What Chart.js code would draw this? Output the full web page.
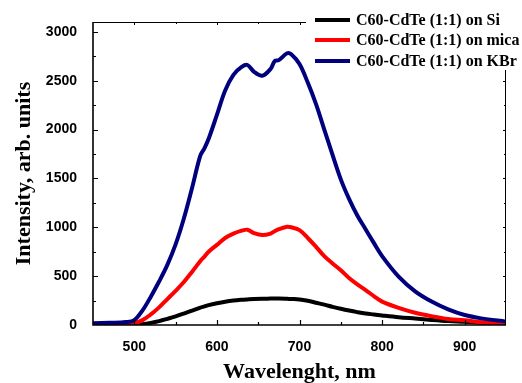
<!DOCTYPE html>
<html>
<head>
<meta charset="utf-8">
<script src="https://cdn.jsdelivr.net/npm/chart.js@4.4.0/dist/chart.umd.min.js"></script>
<style>
  html, body { margin: 0; padding: 0; background: #ffffff; }
  canvas { display: block; }
</style>
</head>
<body>
<canvas id="c" width="522" height="383"></canvas>
<script>
// Photoluminescence spectra of C60-CdTe (1:1) films on three substrates
const wavelength = [450, 470, 490, 500, 510, 520, 530, 540, 550, 560, 570, 580, 585, 590, 600, 610, 620, 630, 637, 645, 655, 665, 670, 675, 685, 690, 700, 710, 720, 730, 740, 750, 760, 770, 780, 790, 800, 820, 840, 860, 880, 900, 920, 950];
const intensitySi = [0, 0, 0, 0, 8, 22, 40, 63, 88, 117, 148, 178, 190, 203, 222, 238, 250, 258, 262, 266, 269, 270, 271, 271, 268, 266, 262, 248, 228, 208, 186, 166, 148, 132, 118, 108, 98, 80, 66, 52, 40, 32, 22, 10];
const intensityMica = [5, 6, 10, 18, 50, 108, 180, 265, 350, 440, 545, 655, 700, 750, 820, 890, 935, 965, 975, 940, 920, 935, 960, 980, 1005, 1000, 970, 890, 800, 705, 630, 560, 480, 415, 358, 295, 239, 175, 125, 90, 62, 48, 28, 10];
const intensityKBr = [17, 22, 30, 50, 150, 290, 445, 615, 825, 1090, 1405, 1735, 1810, 1905, 2150, 2400, 2560, 2640, 2660, 2590, 2550, 2620, 2700, 2710, 2780, 2770, 2670, 2480, 2260, 2000, 1740, 1490, 1290, 1120, 980, 840, 705, 495, 345, 240, 160, 102, 68, 34];

const seriesLabels = ['C60-CdTe (1:1) on Si', 'C60-CdTe (1:1) on mica', 'C60-CdTe (1:1) on KBr'];
const seriesColors = ['#000000', '#ff0000', '#00007f'];

const xTickValues = [500, 600, 700, 800, 900];
const xMinorTicks = [500, 550, 600, 650, 700, 750, 800, 850, 900];
const yTickValues = [0, 500, 1000, 1500, 2000, 2500, 3000];
const yMinorTicks = [250, 500, 750, 1000, 1250, 1500, 1750, 2000, 2250, 2500, 2750, 3000];

const toPoints = (ys) => wavelength.map((x, i) => ({ x: x, y: ys[i] }));

// Box frame with inward major/minor ticks
const framePlugin = {
  id: 'frame',
  afterDatasetsDraw(chart) {
    const { ctx, chartArea: a, scales: { x, y } } = chart;
    ctx.save();
    ctx.strokeStyle = '#000000';
    // top and right borders (thin)
    ctx.lineWidth = 1;
    ctx.beginPath();
    ctx.moveTo(a.left, a.top + 0.5); ctx.lineTo(a.right, a.top + 0.5);
    ctx.moveTo(a.right - 0.5, a.top); ctx.lineTo(a.right - 0.5, a.bottom);
    ctx.stroke();
    // ticks on top and right
    ctx.beginPath();
    xMinorTicks.forEach(v => {
      const px = Math.round(x.getPixelForValue(v)) + 0.5;
      ctx.moveTo(px, a.top); ctx.lineTo(px, a.top + (v % 100 === 0 ? 3 : 2));
    });
    yMinorTicks.forEach(v => {
      const py = Math.round(y.getPixelForValue(v)) + 0.5;
      ctx.moveTo(a.right, py); ctx.lineTo(a.right - (v % 500 === 0 ? 3 : 2), py);
    });
    ctx.stroke();
    // left and bottom axes (heavier)
    ctx.lineWidth = 1.6;
    ctx.beginPath();
    ctx.moveTo(a.left, a.top); ctx.lineTo(a.left, a.bottom);
    ctx.lineTo(a.right, a.bottom);
    ctx.stroke();
    ctx.lineWidth = 1.2;
    ctx.beginPath();
    xMinorTicks.forEach(v => {
      const px = Math.round(x.getPixelForValue(v)) + 0.5;
      ctx.moveTo(px, a.bottom); ctx.lineTo(px, a.bottom - (v % 100 === 0 ? 5 : 3));
    });
    yMinorTicks.forEach(v => {
      const py = Math.round(y.getPixelForValue(v)) + 0.5;
      ctx.moveTo(a.left, py); ctx.lineTo(a.left + (v % 500 === 0 ? 5 : 3), py);
    });
    ctx.stroke();
    ctx.restore();
  }
};

// Legend in the upper right corner on a white panel
const legendPlugin = {
  id: 'cornerLegend',
  afterDraw(chart) {
    const { ctx } = chart;
    ctx.save();
    ctx.fillStyle = '#ffffff';
    ctx.fillRect(306, 0, 216, 70);
    const rows = [20, 40, 61];
    chart.data.datasets.forEach((ds, i) => {
      ctx.strokeStyle = ds.borderColor;
      ctx.lineWidth = 4;
      ctx.beginPath();
      ctx.moveTo(315, rows[i]); ctx.lineTo(350, rows[i]);
      ctx.stroke();
      ctx.fillStyle = '#000000';
      ctx.font = 'bold 16px "Liberation Serif", "Times New Roman", serif';
      ctx.textBaseline = 'middle';
      ctx.textAlign = 'left';
      ctx.fillText(ds.label, 356, rows[i] + 1);
    });
    ctx.restore();
  }
};

new Chart(document.getElementById('c'), {
  type: 'line',
  data: {
    datasets: [
      { label: seriesLabels[0], data: toPoints(intensitySi), borderColor: seriesColors[0], order: 3 },
      { label: seriesLabels[1], data: toPoints(intensityMica), borderColor: seriesColors[1], order: 2 },
      { label: seriesLabels[2], data: toPoints(intensityKBr), borderColor: seriesColors[2], order: 1 }
    ].map(d => Object.assign(d, {
      borderWidth: 4,
      pointRadius: 0,
      fill: false,
      tension: 0.35,
      borderCapStyle: 'round',
      borderJoinStyle: 'round'
    }))
  },
  options: {
    responsive: false,
    animation: false,
    layout: { padding: { left: 0, right: 16, top: 22, bottom: 0 } },
    plugins: { legend: { display: false }, tooltip: { enabled: false } },
    scales: {
      x: {
        type: 'linear',
        min: 450,
        max: 950,
        afterBuildTicks: (s) => { s.ticks = xTickValues.map(v => ({ value: v })); },
        afterFit: (s) => { s.height = 58; },
        grid: { display: false },
        border: { display: false },
        ticks: {
          color: '#000000',
          padding: 6,
          maxRotation: 0,
          callback: (v) => String(v),
          font: { family: '"Liberation Sans", Arial, sans-serif', size: 14, weight: 'bold' }
        },
        title: {
          display: true,
          text: 'Wavelenght, nm',
          color: '#000000',
          padding: { top: 0, bottom: 0 },
          font: { family: '"Liberation Serif", "Times New Roman", serif', size: 22, weight: 'bold', lineHeight: 1.0 }
        }
      },
      y: {
        min: 0,
        max: 3100,
        afterBuildTicks: (s) => { s.ticks = yTickValues.map(v => ({ value: v })); },
        afterFit: (s) => { s.width = 93; },
        grid: { display: false },
        border: { display: false },
        ticks: {
          color: '#000000',
          padding: 8,
          callback: (v) => String(v),
          font: { family: '"Liberation Sans", Arial, sans-serif', size: 14, weight: 'bold' }
        },
        title: {
          display: true,
          text: 'Intensity, arb. units',
          color: '#000000',
          padding: { top: 13, bottom: 0 },
          font: { family: '"Liberation Serif", "Times New Roman", serif', size: 22, weight: 'bold', lineHeight: 1.0 }
        }
      }
    }
  },
  plugins: [framePlugin, legendPlugin]
});
</script>
</body>
</html>
